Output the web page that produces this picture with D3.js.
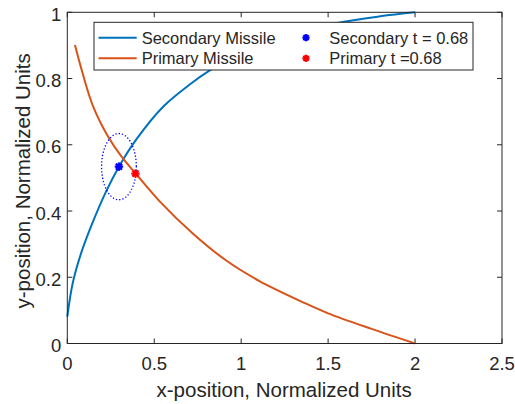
<!DOCTYPE html>
<html>
<head>
<meta charset="utf-8">
<script src="https://cdn.jsdelivr.net/npm/d3@7"></script>
<style>
  html, body { margin: 0; padding: 0; background: #fff; }
  svg { display: block; }
  text { font-family: "Liberation Sans", Arial, Helvetica, sans-serif; fill: #262626; }
</style>
</head>
<body>
<svg id="chart" width="515" height="404"></svg>
<script>
// ---- data ----
const secondaryX = [0, 0.031, 0.079, 0.136, 0.222, 0.297, 0.398, 0.551, 0.704, 0.815, 1.0, 1.25, 1.546, 1.8, 2.0];
const secondaryY = [0.081, 0.182, 0.272, 0.353, 0.458, 0.534, 0.617, 0.715, 0.782, 0.823, 0.878, 0.928, 0.967, 0.988, 1.0];
const primaryX = [0.044, 0.088, 0.149, 0.235, 0.312, 0.392, 0.53, 0.72, 0.91, 1.1, 1.37, 1.5, 1.75, 2.0];
const primaryY = [0.901, 0.816, 0.715, 0.624, 0.564, 0.514, 0.43, 0.333, 0.252, 0.19, 0.121, 0.091, 0.044, 0.0];
const secondaryPoint = [0.297, 0.534];
const primaryPoint = [0.392, 0.513];
const circleRadius = 0.1;
const xTicks = [0, 0.5, 1, 1.5, 2, 2.5];
const yTicks = [0, 0.2, 0.4, 0.6, 0.8, 1];
const xTickLabels = ["0", "0.5", "1", "1.5", "2", "2.5"];
const yTickLabels = ["0", "0.2", "0.4", "0.6", "0.8", "1"];
const legendLabels = ["Secondary Missile", "Primary Missile", "Secondary t = 0.68", "Primary t =0.68"];

// ---- layout ----
const svg = d3.select("#chart");
const L = 67.3, R = 502, T = 12.3, B = 343.5;
const x = d3.scaleLinear().domain([0, 2.5]).range([L, R]);
const y = d3.scaleLinear().domain([0, 1]).range([B, T]);
const axisColor = "#262626";
const blueLine = "#0072BD", orangeLine = "#D95319";

// ticks (inward on all sides)
const tickLen = 5;
const g = svg.append("g");
xTicks.forEach((v, i) => {
  g.append("line").attr("x1", x(v)).attr("x2", x(v)).attr("y1", B).attr("y2", B - tickLen)
    .attr("stroke", axisColor).attr("stroke-width", 1);
  g.append("line").attr("x1", x(v)).attr("x2", x(v)).attr("y1", T).attr("y2", T + tickLen)
    .attr("stroke", axisColor).attr("stroke-width", 1);
  g.append("text").attr("x", x(v)).attr("y", 369.5).attr("text-anchor", "middle")
    .attr("font-size", "18.5px").text(xTickLabels[i]);
});
yTicks.forEach((v, i) => {
  g.append("line").attr("x1", L).attr("x2", L + tickLen).attr("y1", y(v)).attr("y2", y(v))
    .attr("stroke", axisColor).attr("stroke-width", 1);
  g.append("line").attr("x1", R).attr("x2", R - tickLen).attr("y1", y(v)).attr("y2", y(v))
    .attr("stroke", axisColor).attr("stroke-width", 1);
  g.append("text").attr("x", L - 6).attr("y", y(v) + 8.5).attr("text-anchor", "end")
    .attr("font-size", "18.5px").text(yTickLabels[i]);
});

// axis labels
svg.append("text").attr("x", (L + R) / 2 - 0.5).attr("y", 396.5).attr("text-anchor", "middle")
  .attr("font-size", "20.5px").text("x-position, Normalized Units");
svg.append("text").attr("transform", `translate(29.5,${(T + B) / 2 + 3}) rotate(-90)`)
  .attr("text-anchor", "middle").attr("font-size", "20.5px").text("y-position, Normalized Units");

// curves
const line = d3.line().x(d => x(d[0])).y(d => y(d[1])).curve(d3.curveCatmullRom.alpha(0.5));
const secData = secondaryX.map((v, i) => [v, secondaryY[i]]);
const priData = primaryX.map((v, i) => [v, primaryY[i]]);
svg.append("path").attr("d", line(secData)).attr("fill", "none").attr("stroke", blueLine).attr("stroke-width", 2);
svg.append("path").attr("d", line(priData)).attr("fill", "none").attr("stroke", orangeLine).attr("stroke-width", 2);

// dotted circle around secondary point (in data units)
const angles = d3.range(0, 361, 3).map(a => a * Math.PI / 180);
const circ = angles.map(a => [secondaryPoint[0] + circleRadius * Math.cos(a), secondaryPoint[1] + circleRadius * Math.sin(a)]);
svg.append("path").attr("d", d3.line().x(d => x(d[0])).y(d => y(d[1]))(circ))
  .attr("fill", "none").attr("stroke", "#0000FF").attr("stroke-width", 1.3).attr("stroke-dasharray", "1.3,2");

// asterisk markers
function asterisk(cx, cy, color, r) {
  const m = svg.append("g").attr("transform", `translate(${cx},${cy})`);
  [[r, 0], [0, r], [r * 0.72, r * 0.72], [r * 0.72, -r * 0.72]].forEach(([dx, dy]) => {
    m.append("line").attr("x1", -dx).attr("y1", -dy).attr("x2", dx).attr("y2", dy)
      .attr("stroke", color).attr("stroke-width", 2.2);
  });
  m.append("circle").attr("r", r * 0.65).attr("fill", color);
}
asterisk(x(secondaryPoint[0]), y(secondaryPoint[1]), "#0000FF", 4.2);
asterisk(x(primaryPoint[0]), y(primaryPoint[1]), "#FF0000", 4.2);

// frame
svg.append("rect").attr("x", L).attr("y", T).attr("width", R - L).attr("height", B - T)
  .attr("fill", "none").attr("stroke", axisColor).attr("stroke-width", 1);

// legend
const lg = svg.append("g");
lg.append("rect").attr("x", 94).attr("y", 22.3).attr("width", 379).attr("height", 47.7)
  .attr("fill", "#fff").attr("stroke", axisColor).attr("stroke-width", 1);
const rows = [37.7, 58.3];
lg.append("line").attr("x1", 98.5).attr("x2", 136.7).attr("y1", rows[0]).attr("y2", rows[0])
  .attr("stroke", blueLine).attr("stroke-width", 2);
lg.append("line").attr("x1", 98.5).attr("x2", 136.7).attr("y1", rows[1]).attr("y2", rows[1])
  .attr("stroke", orangeLine).attr("stroke-width", 2);
lg.append("text").attr("x", 141.7).attr("y", rows[0] + 6).attr("font-size", "16.5px").text(legendLabels[0]);
lg.append("text").attr("x", 141.7).attr("y", rows[1] + 6).attr("font-size", "16.5px").text(legendLabels[1]);
asterisk(306, rows[0], "#0000FF", 3.6);
asterisk(306, rows[1], "#FF0000", 3.6);
lg.append("text").attr("x", 329.3).attr("y", rows[0] + 6).attr("font-size", "16.5px").text(legendLabels[2]);
lg.append("text").attr("x", 329.3).attr("y", rows[1] + 6).attr("font-size", "16.5px").text(legendLabels[3]);
</script>
</body>
</html>
